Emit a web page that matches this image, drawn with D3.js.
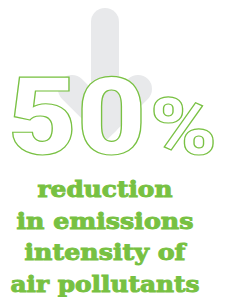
<!DOCTYPE html>
<html>
<head>
<meta charset="utf-8">
<script src="https://cdn.jsdelivr.net/npm/d3@7"></script>
<style>
  html, body { margin: 0; padding: 0; background: #fff; }
  svg { display: block; }
</style>
</head>
<body>
<div id="chart"></div>
<script>

//******************************************************************************
//**  Data
//******************************************************************************
var percentValue = ["50"];
var percentSign = ["%"];
var labelLines = ["reduction", "in emissions", "intensity of", "air pollutants"];


//******************************************************************************
//**  Config
//******************************************************************************
var width = 246, height = 297;
var green = "#79c143";
var textGreen = "#77c142";
var arrowGray = "#e8e9eb";


var svg = d3.select("#chart").append("svg")
    .attr("width", width)
    .attr("height", height);


//**************************************************************************
//** Arrow (background)
//**************************************************************************
  //arrow drawn as a thick stroked path on a simple unit grid
    var ax = d3.scaleLinear().domain([-1, 1]).range([72, 138]);
    var ay = d3.scaleLinear().domain([0, 1]).range([22, 122]);
    var line = d3.line().x(function(d){ return ax(d[0]); }).y(function(d){ return ay(d[1]); });

    svg.append("path")
      .attr("d", line([[0, 0], [0, 1]]))
      .style("stroke", arrowGray)
      .style("stroke-width", 28)
      .style("stroke-linecap", "round")
      .style("fill", "none");

    svg.append("path")
      .attr("d", line([[-1, 0.67], [0, 1], [1, 0.67]]))
      .style("stroke", arrowGray)
      .style("stroke-width", 28)
      .style("stroke-linecap", "round")
      .style("stroke-linejoin", "miter")
      .style("fill", "none");


//**************************************************************************
//** Big outlined number
//**************************************************************************
    var numFont = "Roboto, 'DejaVu Sans', sans-serif";

    svg.selectAll("text.num")
      .data(percentValue)
      .enter().append("text")
      .attr("class", "num")
      .attr("x", 8)
      .attr("y", 154)
      .attr("textLength", 138)
      .attr("lengthAdjust", "spacingAndGlyphs")
      .style("font-family", numFont)
      .style("font-weight", 900)
      .style("font-size", "107px")
      .style("fill", "#fff")
      .style("stroke", green)
      .style("stroke-width", 1.2)
      .text(function(d){ return d; });

    svg.selectAll("text.pct")
      .data(percentSign)
      .enter().append("text")
      .attr("class", "pct")
      .attr("x", 150)
      .attr("y", 154)
      .attr("textLength", 67)
      .attr("lengthAdjust", "spacingAndGlyphs")
      .style("font-family", numFont)
      .style("font-weight", 900)
      .style("font-size", "80px")
      .style("fill", "#fff")
      .style("stroke", green)
      .style("stroke-width", 1.2)
      .text(function(d){ return d; });


//**************************************************************************
//** Label
//**************************************************************************
    var lineWidths = [135, 177, 161, 189];
    var ly = d3.scaleLinear().domain([0, labelLines.length-1]).range([197, 292]);

    svg.selectAll("text.label")
      .data(labelLines)
      .enter().append("text")
      .attr("class", "label")
      .attr("x", 105)
      .attr("y", function(d, i){ return ly(i); })
      .attr("text-anchor", "middle")
      .attr("textLength", function(d, i){ return lineWidths[i]; })
      .attr("lengthAdjust", "spacingAndGlyphs")
      .style("font-family", "'DejaVu Serif'")
      .style("font-weight", "bold")
      .style("font-size", "23px")
      .style("fill", textGreen)
      .style("stroke", textGreen)
      .style("stroke-width", 1)
      .text(function(d){ return d; });

</script>
</body>
</html>
